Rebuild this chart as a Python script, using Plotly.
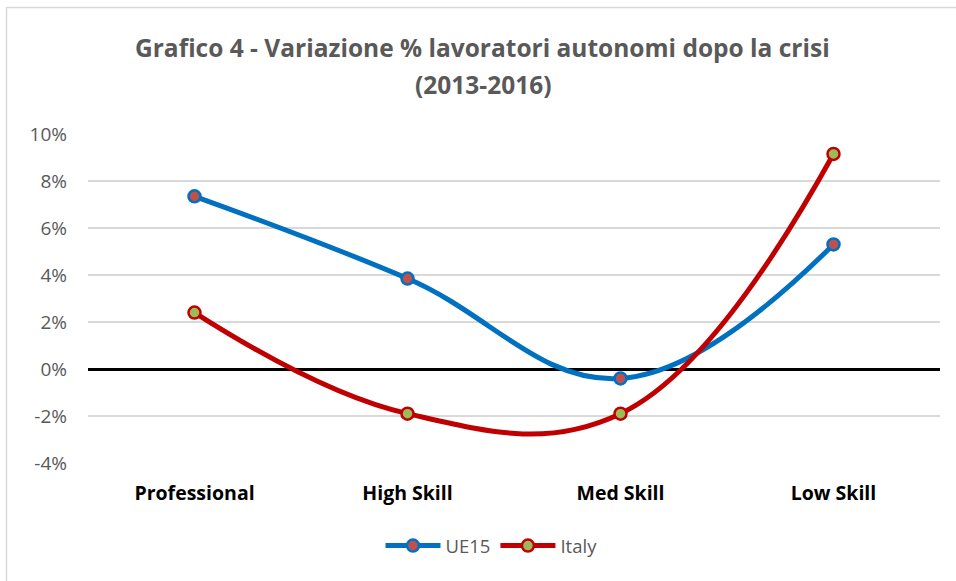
import plotly.graph_objects as go

categories = ["Professional", "High Skill", "Med Skill", "Low Skill"]
ue15 = [7.35, 3.85, -0.4, 5.3]
italy = [2.4, -1.9, -1.9, 9.15]
tick_vals = [-4, -2, 0, 2, 4, 6, 8, 10]
tick_text = ["-4%", "-2%", "0%", "2%", "4%", "6%", "8%", "10%"]
title_lines = ["Grafico 4 - Variazione % lavoratori autonomi dopo la crisi", "(2013-2016)"]

FONT = "Open Sans"

fig = go.Figure()
fig.add_trace(go.Scatter(
    x=categories, y=ue15, name="UE15", mode="lines+markers",
    line=dict(color="#0070C0", width=5, shape="spline", smoothing=1.15),
    marker=dict(size=12, color="#C0504D", line=dict(color="#0070C0", width=2.5)),
))
fig.add_trace(go.Scatter(
    x=categories, y=italy, name="Italy", mode="lines+markers",
    line=dict(color="#C00000", width=5, shape="spline", smoothing=1.15),
    marker=dict(size=12, color="#9BBB59", line=dict(color="#C00000", width=2.5)),
))

L, R, T, B = 88, 16, 134, 118
W, H = 956, 581
PH = H - T - B


def py(px):
    return (H - B - px) / PH


fig.update_layout(
    width=W, height=H,
    margin=dict(l=L, r=R, t=T, b=B),
    paper_bgcolor="white", plot_bgcolor="white",
    xaxis=dict(
        showgrid=False, showline=False, ticks="",
        tickfont=dict(family=FONT, size=19.5, color="black", weight="bold"),
        range=[-0.5, 3.5], ticklabelstandoff=16,
    ),
    yaxis=dict(
        range=[-4, 10], tickvals=tick_vals, ticktext=tick_text,
        showgrid=True, gridcolor="#D9D9D9", gridwidth=1.5,
        zeroline=True, zerolinecolor="black", zerolinewidth=2.5,
        tickfont=dict(family=FONT, size=19, color="#595959"),
        ticks="", ticklabelstandoff=20, automargin=False,
    ),
    legend=dict(
        orientation="h", x=(491.5 - L) / (W - L - R), xanchor="center",
        y=py(546), yanchor="middle",
        font=dict(family=FONT, size=18.5, color="#595959"),
        itemwidth=55,
    ),
    showlegend=True,
)

fig.add_annotation(text=title_lines[0], xref="paper", yref="paper",
                   x=(482 - L) / (W - L - R), y=py(48), xanchor="center", yanchor="middle",
                   showarrow=False,
                   font=dict(family=FONT, size=24.5, color="#595959", weight="bold"))
fig.add_annotation(text=title_lines[1], xref="paper", yref="paper",
                   x=(483 - L) / (W - L - R), y=py(85), xanchor="center", yanchor="middle",
                   showarrow=False,
                   font=dict(family=FONT, size=24.5, color="#595959", weight="bold"))

# chart border (top and left visible)
fig.add_shape(type="rect", xref="paper", yref="paper",
              x0=(6.5 - L) / (W - L - R), x1=1.2,
              y0=-0.6, y1=py(7.5),
              line=dict(color="#D9D9D9", width=1.5), layer="below")

fig.write_html("out.html", config={"displayModeBar": False},
               post_script="document.body.style.margin='0';")
